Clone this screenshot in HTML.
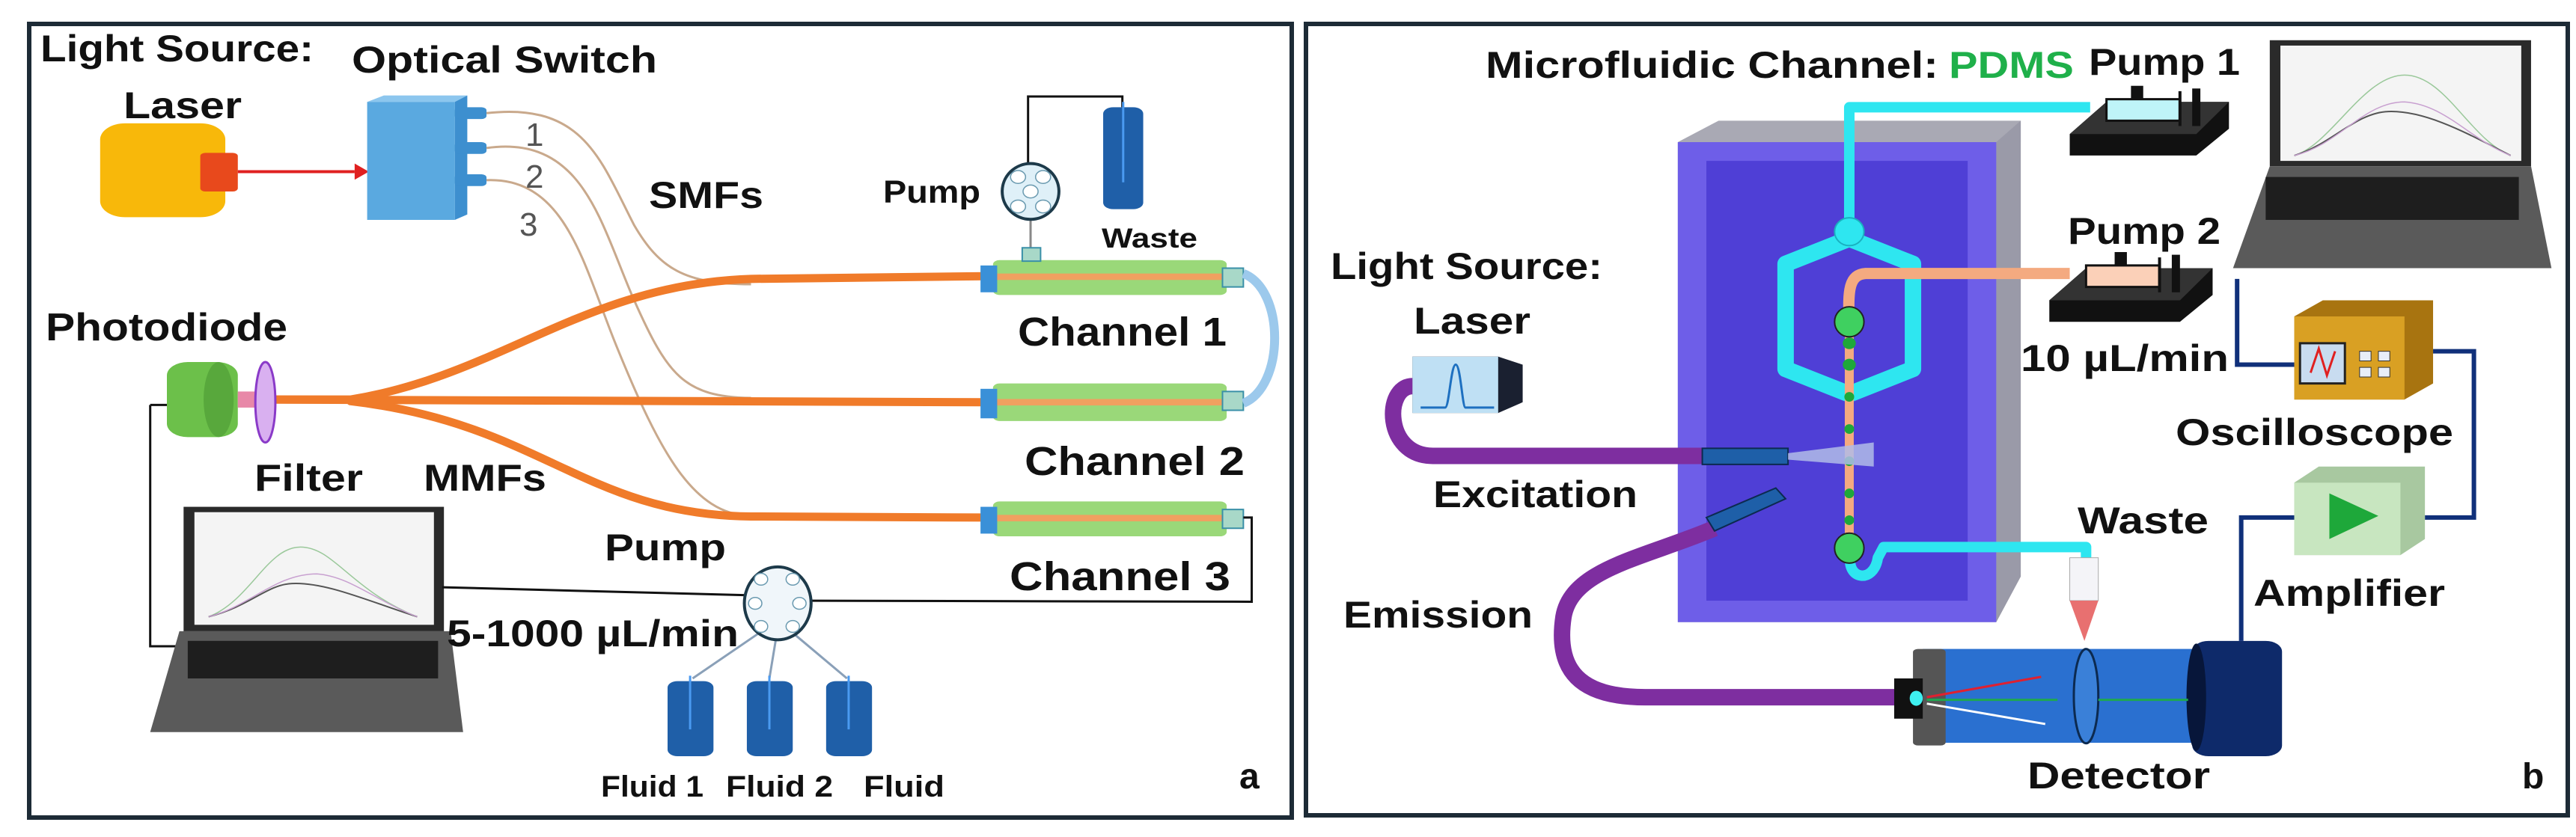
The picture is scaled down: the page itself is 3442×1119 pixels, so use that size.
<!DOCTYPE html>
<html><head><meta charset="utf-8"><style>
html,body{margin:0;padding:0;background:#fff;}
svg{display:block;}
text{font-family:"Liberation Sans",sans-serif;font-weight:bold;fill:#111;}
</style></head><body>
<svg width="3442" height="1119" viewBox="0 0 3442 1119" xmlns="http://www.w3.org/2000/svg">
<rect x="0" y="0" width="3442" height="1119" fill="#fff"/>
<!-- panel borders -->
<rect x="39" y="32" width="1687" height="1061" fill="none" stroke="#1d2b36" stroke-width="6"/>
<rect x="1745" y="32" width="1686" height="1058" fill="none" stroke="#1d2b36" stroke-width="6"/>

<!-- LEFT PANEL shapes (zoom coords) -->
<g transform="scale(1.115,0.717)">
 <!-- laser -->
 <rect x="120" y="230" width="150" height="175" rx="30" fill="#f8b80a"/>
 <rect x="240" y="285" width="45" height="72" rx="6" fill="#e8491c"/>
 <line x1="285" y1="320" x2="425" y2="320" stroke="#e02020" stroke-width="4" vector-effect="non-scaling-stroke"/>
 <polygon points="425,305 442,320 425,335" fill="#e02020"/>
 <!-- optical switch -->
 <polygon points="440,190 460,178 560,178 545,190" fill="#8cc6ee"/>
 <polygon points="545,190 560,178 560,400 545,410" fill="#3d8fcf"/>
 <rect x="440" y="190" width="105" height="220" fill="#5aa9e0"/>
 <rect x="545" y="200" width="38" height="22" rx="6" fill="#3d8fcf"/>
 <rect x="545" y="265" width="38" height="22" rx="6" fill="#3d8fcf"/>
 <rect x="545" y="325" width="38" height="22" rx="6" fill="#3d8fcf"/>
 <!-- thin SMF fibers -->
 <g fill="none" stroke="#c9a98c" stroke-width="3" vector-effect="non-scaling-stroke">
  <path d="M583,211 C700,190 720,300 760,420 C790,500 820,530 900,530" vector-effect="non-scaling-stroke"/>
  <path d="M583,276 C700,250 720,420 760,560 C800,700 820,740 900,742" vector-effect="non-scaling-stroke"/>
  <path d="M583,336 C680,330 700,500 740,650 C790,840 830,960 900,962" vector-effect="non-scaling-stroke"/>
 </g>
 <!-- orange MMF -->
 <g fill="none" stroke="#f07b2a" stroke-width="11" stroke-linecap="round">
  <path d="M320,745 L420,745 C600,700 700,530 900,520 L1180,515" vector-effect="non-scaling-stroke"/>
  <path d="M320,745 L1180,750" vector-effect="non-scaling-stroke"/>
  <path d="M420,748 C650,790 700,960 900,963 L1180,965" vector-effect="non-scaling-stroke"/>
 </g>
 <!-- channels -->
 <g>
  <rect x="1190" y="485" width="280" height="65" rx="8" fill="#8fd46a" opacity="0.9"/>
  <rect x="1190" y="510" width="280" height="12" fill="#f0a060"/>
  <rect x="1175" y="495" width="20" height="50" fill="#3a90d8"/>
  <rect x="1465" y="500" width="25" height="35" fill="#a8d8c8" stroke="#3a90a8" stroke-width="2" vector-effect="non-scaling-stroke"/>
  <rect x="1190" y="715" width="280" height="70" rx="8" fill="#8fd46a" opacity="0.9"/>
  <rect x="1190" y="744" width="280" height="12" fill="#f0a060"/>
  <rect x="1175" y="725" width="20" height="55" fill="#3a90d8"/>
  <rect x="1465" y="730" width="25" height="35" fill="#a8d8c8" stroke="#3a90a8" stroke-width="2" vector-effect="non-scaling-stroke"/>
  <rect x="1190" y="935" width="280" height="65" rx="8" fill="#8fd46a" opacity="0.9"/>
  <rect x="1190" y="960" width="280" height="12" fill="#f0a060"/>
  <rect x="1175" y="945" width="20" height="50" fill="#3a90d8"/>
  <rect x="1465" y="950" width="25" height="35" fill="#a8d8c8" stroke="#3a90a8" stroke-width="2" vector-effect="non-scaling-stroke"/>
  <path d="M1490,510 C1540,540 1540,720 1490,752" fill="none" stroke="#9cc9ec" stroke-width="12" vector-effect="non-scaling-stroke"/>
 </g>
 <!-- top pump + waste -->
 <polyline points="1232,305 1232,180 1345,180 1345,200" fill="none" stroke="#111" stroke-width="3" vector-effect="non-scaling-stroke"/>
 <line x1="1235" y1="410" x2="1235" y2="470" stroke="#888" stroke-width="3" vector-effect="non-scaling-stroke"/>
 <rect x="1225" y="462" width="22" height="25" fill="#a8d8c8" stroke="#3a90a8" stroke-width="2" vector-effect="non-scaling-stroke"/>
 <ellipse cx="1235" cy="357" rx="34" ry="52" fill="#dff0f8" stroke="#1d3a4a" stroke-width="4" vector-effect="non-scaling-stroke"/>
 <g fill="#fff" stroke="#6a9ab0" stroke-width="1.5">
  <ellipse cx="1235" cy="357" rx="9" ry="12" vector-effect="non-scaling-stroke"/>
  <ellipse cx="1220" cy="330" rx="9" ry="12" vector-effect="non-scaling-stroke"/>
  <ellipse cx="1250" cy="330" rx="9" ry="12" vector-effect="non-scaling-stroke"/>
  <ellipse cx="1220" cy="385" rx="9" ry="12" vector-effect="non-scaling-stroke"/>
  <ellipse cx="1250" cy="385" rx="9" ry="12" vector-effect="non-scaling-stroke"/>
 </g>
 <rect x="1322" y="200" width="48" height="190" rx="12" fill="#1f5fa8"/>
 <line x1="1346" y1="190" x2="1346" y2="340" stroke="#4a9af0" stroke-width="3" vector-effect="non-scaling-stroke"/>
 <!-- photodiode -->
 <line x1="180" y1="755" x2="205" y2="755" stroke="#111" stroke-width="3" vector-effect="non-scaling-stroke"/>
 <polyline points="180,755 180,1205 215,1205" fill="none" stroke="#111" stroke-width="3" vector-effect="non-scaling-stroke"/>
 <rect x="200" y="675" width="85" height="140" rx="25" fill="#6cc04a"/>
 <ellipse cx="262" cy="745" rx="18" ry="70" fill="#58a83c"/>
 <rect x="285" y="730" width="25" height="30" fill="#e888a8"/>
 <ellipse cx="318" cy="750" rx="12" ry="75" fill="#d9b0f0" stroke="#8a3ac8" stroke-width="3" vector-effect="non-scaling-stroke"/>
 <!-- laptop -->
 <rect x="220" y="945" width="312" height="232" fill="#2a2a2a"/>
 <rect x="233" y="955" width="287" height="210" fill="#f4f4f4"/>
 <path d="M250,1150 C300,1120 320,1020 360,1020 C400,1020 420,1100 500,1150" fill="none" stroke="#9ac89a" stroke-width="1.5" vector-effect="non-scaling-stroke"/>
 <path d="M250,1150 C300,1130 320,1090 350,1088 C390,1085 440,1120 500,1150" fill="none" stroke="#555" stroke-width="2" vector-effect="non-scaling-stroke"/>
 <path d="M250,1150 C300,1130 330,1070 380,1070 C420,1075 450,1120 500,1150" fill="none" stroke="#c8a0d0" stroke-width="1.5" vector-effect="non-scaling-stroke"/>
 <polygon points="215,1177 540,1177 555,1365 180,1365" fill="#5a5a5a"/>
 <rect x="225" y="1195" width="300" height="70" fill="#1e1e1e"/>
 <line x1="530" y1="1095" x2="900" y2="1110" stroke="#111" stroke-width="3" vector-effect="non-scaling-stroke"/>
 <polyline points="935,1120 1500,1122 1500,965 1490,965" fill="none" stroke="#111" stroke-width="3" vector-effect="non-scaling-stroke"/>
 <!-- lower pump -->
 <g stroke="#8aa0b8" stroke-width="3" fill="none">
  <line x1="910" y1="1180" x2="830" y2="1265" vector-effect="non-scaling-stroke"/>
  <line x1="930" y1="1190" x2="922" y2="1265" vector-effect="non-scaling-stroke"/>
  <line x1="950" y1="1180" x2="1015" y2="1265" vector-effect="non-scaling-stroke"/>
 </g>
 <ellipse cx="932" cy="1125" rx="40" ry="68" fill="#f0f6fa" stroke="#1d3a4a" stroke-width="4" vector-effect="non-scaling-stroke"/>
 <g fill="#fff" stroke="#6a9ab0" stroke-width="1.5">
  <ellipse cx="912" cy="1080" rx="8" ry="11" vector-effect="non-scaling-stroke"/>
  <ellipse cx="950" cy="1080" rx="8" ry="11" vector-effect="non-scaling-stroke"/>
  <ellipse cx="905" cy="1125" rx="8" ry="11" vector-effect="non-scaling-stroke"/>
  <ellipse cx="958" cy="1125" rx="8" ry="11" vector-effect="non-scaling-stroke"/>
  <ellipse cx="912" cy="1168" rx="8" ry="11" vector-effect="non-scaling-stroke"/>
  <ellipse cx="950" cy="1168" rx="8" ry="11" vector-effect="non-scaling-stroke"/>
 </g>
 <!-- bottles -->
 <g fill="#1f5fa8">
  <rect x="800" y="1270" width="55" height="140" rx="12"/>
  <rect x="895" y="1270" width="55" height="140" rx="12"/>
  <rect x="990" y="1270" width="55" height="140" rx="12"/>
 </g>
 <g stroke="#4a9af0" stroke-width="3">
  <line x1="827" y1="1260" x2="827" y2="1360" vector-effect="non-scaling-stroke"/>
  <line x1="922" y1="1260" x2="922" y2="1360" vector-effect="non-scaling-stroke"/>
  <line x1="1017" y1="1260" x2="1017" y2="1360" vector-effect="non-scaling-stroke"/>
 </g>
</g>

<!-- LEFT PANEL text -->
<text x="54" y="82" font-size="50" textLength="365" lengthAdjust="spacingAndGlyphs">Light Source:</text>
<text x="470" y="97" font-size="50" textLength="408" lengthAdjust="spacingAndGlyphs">Optical Switch</text>
<text x="165" y="158" font-size="50" textLength="158" lengthAdjust="spacingAndGlyphs">Laser</text>
<text x="702" y="195" font-size="44" style="font-weight:normal;fill:#555">1</text>
<text x="702" y="251" font-size="44" style="font-weight:normal;fill:#555">2</text>
<text x="694" y="315" font-size="44" style="font-weight:normal;fill:#555">3</text>
<text x="867" y="278" font-size="50" textLength="153" lengthAdjust="spacingAndGlyphs">SMFs</text>
<text x="1180" y="271" font-size="43" textLength="130" lengthAdjust="spacingAndGlyphs">Pump</text>
<text x="1472" y="331" font-size="37" textLength="128" lengthAdjust="spacingAndGlyphs">Waste</text>
<text x="61" y="455" font-size="52" textLength="323" lengthAdjust="spacingAndGlyphs">Photodiode</text>
<text x="1360" y="462" font-size="54" textLength="279" lengthAdjust="spacingAndGlyphs">Channel 1</text>
<text x="1369" y="635" font-size="54" textLength="294" lengthAdjust="spacingAndGlyphs">Channel 2</text>
<text x="340" y="656" font-size="50" textLength="145" lengthAdjust="spacingAndGlyphs">Filter</text>
<text x="566" y="656" font-size="50" textLength="164" lengthAdjust="spacingAndGlyphs">MMFs</text>
<text x="808" y="749" font-size="50" textLength="162" lengthAdjust="spacingAndGlyphs">Pump</text>
<text x="1349" y="789" font-size="54" textLength="295" lengthAdjust="spacingAndGlyphs">Channel 3</text>
<text x="597" y="864" font-size="50" textLength="390" lengthAdjust="spacingAndGlyphs">5-1000 µL/min</text>
<text x="803" y="1065" font-size="40" textLength="137" lengthAdjust="spacingAndGlyphs">Fluid 1</text>
<text x="970" y="1065" font-size="40" textLength="143" lengthAdjust="spacingAndGlyphs">Fluid 2</text>
<text x="1154" y="1065" font-size="40" textLength="108" lengthAdjust="spacingAndGlyphs">Fluid</text>
<text x="1656" y="1054" font-size="48">a</text>

<!-- RIGHT PANEL shapes (zoom coords) -->
<g transform="translate(1740,0) scale(1.091,0.717)">
 <!-- PDMS block -->
 <polygon points="460,265 510,225 880,225 880,1075 850,1160 460,1160" fill="#a9a9b4"/>
 <polygon points="850,265 880,225 880,1075 850,1160" fill="#9a9aa8"/>
 <rect x="460" y="265" width="390" height="895" fill="#6e5ee8"/>
 <rect x="495" y="300" width="320" height="820" fill="#4f3fd6"/>
 <!-- cyan channel -->
 <g fill="none" stroke="#2ee6f0" stroke-linejoin="round">
  <polyline points="965,200 670,200 670,430" stroke-width="14" vector-effect="non-scaling-stroke"/>
  <polygon points="670,445 748,492 748,688 670,735 592,688 592,492" stroke-width="22" vector-effect="non-scaling-stroke"/>
  <path d="M672,1035 C665,1080 700,1090 705,1040 L712,1020 L960,1020 L960,1085" stroke-width="14" vector-effect="non-scaling-stroke"/>
 </g>
 <ellipse cx="670" cy="432" rx="18" ry="26" fill="#2ee6f0" stroke="#1ab0c0" stroke-width="2" vector-effect="non-scaling-stroke"/>
 <!-- orange tube -->
 <path d="M940,510 L690,510 C670,512 668,540 670,600" fill="none" stroke="#f4aa80" stroke-width="15" vector-effect="non-scaling-stroke"/>
 <!-- central channel -->
 <line x1="670" y1="600" x2="670" y2="1020" stroke="#f4aa80" stroke-width="12" vector-effect="non-scaling-stroke"/>
 <g fill="#1ea83a">
  <ellipse cx="670" cy="640" rx="8" ry="11"/><ellipse cx="670" cy="680" rx="8" ry="11"/>
  <ellipse cx="670" cy="740" rx="6" ry="9"/><ellipse cx="670" cy="800" rx="6" ry="9"/>
  <ellipse cx="670" cy="860" rx="6" ry="9"/><ellipse cx="670" cy="920" rx="6" ry="9"/>
  <ellipse cx="670" cy="970" rx="6" ry="9"/>
 </g>
 <ellipse cx="670" cy="600" rx="18" ry="28" fill="#3fd060" stroke="#222" stroke-width="2" vector-effect="non-scaling-stroke"/>
 <ellipse cx="670" cy="1022" rx="18" ry="28" fill="#3fd060" stroke="#222" stroke-width="2" vector-effect="non-scaling-stroke"/>
 <!-- waste tube -->
 <rect x="940" y="1040" width="35" height="80" fill="#f4f4f8" stroke="#aaa" stroke-width="1" vector-effect="non-scaling-stroke"/>
 <polygon points="940,1120 975,1120 958,1195" fill="#e87070"/>
 <!-- pump1 -->
 <polygon points="940,250 985,190 1135,190 1135,240 1095,290 940,290" fill="#111"/>
 <polygon points="985,190 1135,190 1095,250 940,250" fill="#333"/>
 <rect x="985" y="185" width="90" height="40" fill="#bff4f8" stroke="#111" stroke-width="3" vector-effect="non-scaling-stroke"/>
 <rect x="1015" y="160" width="15" height="25" fill="#111"/>
 <line x1="1075" y1="170" x2="1075" y2="235" stroke="#111" stroke-width="4" vector-effect="non-scaling-stroke"/>
 <rect x="1090" y="165" width="10" height="70" fill="#111"/>
 <!-- pump2 -->
 <polygon points="915,560 960,500 1115,500 1115,550 1075,600 915,600" fill="#111"/>
 <polygon points="960,500 1115,500 1075,560 915,560" fill="#333"/>
 <rect x="960" y="495" width="90" height="40" fill="#fbd0b8" stroke="#111" stroke-width="3" vector-effect="non-scaling-stroke"/>
 <rect x="995" y="470" width="15" height="25" fill="#111"/>
 <line x1="1050" y1="480" x2="1050" y2="545" stroke="#111" stroke-width="4" vector-effect="non-scaling-stroke"/>
 <rect x="1065" y="475" width="10" height="70" fill="#111"/>
 <!-- laptop -->
 <rect x="1185" y="75" width="320" height="235" fill="#2a2a2a"/>
 <rect x="1198" y="85" width="295" height="215" fill="#f4f4f4"/>
 <path d="M1215,290 C1260,270 1300,140 1350,140 C1400,140 1430,260 1480,290" fill="none" stroke="#9ac89a" stroke-width="1.5" vector-effect="non-scaling-stroke"/>
 <path d="M1215,290 C1260,270 1290,210 1330,208 C1380,205 1440,260 1480,290" fill="none" stroke="#555" stroke-width="2" vector-effect="non-scaling-stroke"/>
 <path d="M1215,290 C1270,270 1300,190 1350,190 C1400,195 1430,260 1480,290" fill="none" stroke="#c8a0d0" stroke-width="1.5" vector-effect="non-scaling-stroke"/>
 <polygon points="1185,310 1505,310 1530,500 1140,500" fill="#5a5a5a"/>
 <rect x="1180" y="330" width="310" height="80" fill="#1e1e1e"/>
 <!-- laser box -->
 <polygon points="135,665 240,665 270,680 270,750 240,770 135,770" fill="#1a2030"/>
 <rect x="135" y="665" width="105" height="105" fill="#bfe0f4"/>
 <path d="M145,760 L175,760 C180,760 182,680 188,680 C194,680 196,760 200,760 L235,760" fill="none" stroke="#1e70c0" stroke-width="3" vector-effect="non-scaling-stroke"/>
 <!-- excitation fiber -->
 <path d="M135,720 C100,720 100,850 160,850 L495,850" fill="none" stroke="#7e2ea0" stroke-width="22" vector-effect="non-scaling-stroke"/>
 <rect x="490" y="836" width="105" height="30" fill="#1e5fa8" stroke="#0c2a50" stroke-width="2" vector-effect="non-scaling-stroke"/>
 <polygon points="595,845 700,825 700,870 595,857" fill="#b0bce8" opacity="0.85"/>
 <!-- emission fiber -->
 <path d="M505,985 C420,1040 330,1060 320,1150 C310,1250 340,1300 420,1300 L735,1300" fill="none" stroke="#7e2ea0" stroke-width="22" vector-effect="non-scaling-stroke"/>
 <polygon points="495,965 580,910 592,930 505,990" fill="#1e5fa8" stroke="#0c2a50" stroke-width="2" vector-effect="non-scaling-stroke"/>
 <!-- detector -->
 <rect x="760" y="1210" width="400" height="175" fill="#2a70d0"/>
 <ellipse cx="960" cy="1298" rx="15" ry="88" fill="#3a80d8" stroke="#0c2a50" stroke-width="3" vector-effect="non-scaling-stroke"/>
 <rect x="1090" y="1195" width="110" height="215" rx="20" fill="#0e2a6a"/>
 <ellipse cx="1095" cy="1300" rx="12" ry="100" fill="#07163a"/>
 <rect x="748" y="1210" width="40" height="180" rx="6" fill="#555"/>
 <rect x="725" y="1265" width="35" height="75" fill="#111"/>
 <ellipse cx="752" cy="1302" rx="8" ry="14" fill="#3ef0f0"/>
 <line x1="765" y1="1300" x2="905" y2="1262" stroke="#e02030" stroke-width="3" vector-effect="non-scaling-stroke"/>
 <line x1="765" y1="1305" x2="925" y2="1305" stroke="#1ea850" stroke-width="3" vector-effect="non-scaling-stroke"/>
 <line x1="975" y1="1305" x2="1085" y2="1305" stroke="#1ea850" stroke-width="3" vector-effect="non-scaling-stroke"/>
 <line x1="765" y1="1312" x2="910" y2="1350" stroke="#fff" stroke-width="3" vector-effect="non-scaling-stroke"/>
 <!-- wires -->
 <g fill="none" stroke="#10307a" stroke-width="6">
  <polyline points="1145,520 1145,680 1215,680" vector-effect="non-scaling-stroke"/>
  <polyline points="1385,655 1435,655 1435,965 1375,965" vector-effect="non-scaling-stroke"/>
  <polyline points="1215,965 1150,965 1150,1195" vector-effect="non-scaling-stroke"/>
 </g>
 <!-- oscilloscope -->
 <polygon points="1215,590 1250,560 1385,560 1385,715 1350,745 1215,745" fill="#a87410"/>
 <rect x="1215" y="590" width="135" height="155" fill="#d9a023"/>
 <rect x="1222" y="640" width="55" height="75" fill="#c8dcf0" stroke="#222" stroke-width="3" vector-effect="non-scaling-stroke"/>
 <path d="M1235,695 L1245,650 L1255,700 L1265,655" fill="none" stroke="#e02020" stroke-width="3" vector-effect="non-scaling-stroke"/>
 <g fill="#e8eef8" stroke="#333" stroke-width="1" ><rect x="1295" y="655" width="14" height="18" vector-effect="non-scaling-stroke"/><rect x="1318" y="655" width="14" height="18" vector-effect="non-scaling-stroke"/><rect x="1295" y="685" width="14" height="18" vector-effect="non-scaling-stroke"/><rect x="1318" y="685" width="14" height="18" vector-effect="non-scaling-stroke"/></g>
 <!-- amplifier -->
 <polygon points="1215,900 1245,870 1375,870 1375,1005 1345,1035 1215,1035" fill="#a8c8a0"/>
 <rect x="1215" y="900" width="130" height="135" fill="#c8e6c0"/>
 <polygon points="1258,920 1318,962 1258,1005" fill="#1ea83a"/>
</g>

<!-- RIGHT PANEL text -->
<text x="1985" y="104" font-size="50" textLength="605" lengthAdjust="spacingAndGlyphs">Microfluidic Channel:</text>
<text x="2604" y="104" font-size="50" textLength="167" lengthAdjust="spacingAndGlyphs" style="fill:#1fb04a">PDMS</text>
<text x="2791" y="100" font-size="50" textLength="202" lengthAdjust="spacingAndGlyphs">Pump 1</text>
<text x="2763" y="326" font-size="50" textLength="204" lengthAdjust="spacingAndGlyphs">Pump 2</text>
<text x="1778" y="373" font-size="50" textLength="363" lengthAdjust="spacingAndGlyphs">Light Source:</text>
<text x="1889" y="446" font-size="50" textLength="156" lengthAdjust="spacingAndGlyphs">Laser</text>
<text x="2700" y="496" font-size="50" textLength="278" lengthAdjust="spacingAndGlyphs">10 µL/min</text>
<text x="2907" y="595" font-size="50" textLength="371" lengthAdjust="spacingAndGlyphs">Oscilloscope</text>
<text x="1915" y="678" font-size="50" textLength="273" lengthAdjust="spacingAndGlyphs">Excitation</text>
<text x="2776" y="713" font-size="50" textLength="175" lengthAdjust="spacingAndGlyphs">Waste</text>
<text x="3011" y="810" font-size="50" textLength="256" lengthAdjust="spacingAndGlyphs">Amplifier</text>
<text x="1795" y="839" font-size="50" textLength="253" lengthAdjust="spacingAndGlyphs">Emission</text>
<text x="2709" y="1054" font-size="50" textLength="244" lengthAdjust="spacingAndGlyphs">Detector</text>
<text x="3370" y="1054" font-size="48">b</text>
</svg>
</body></html>
